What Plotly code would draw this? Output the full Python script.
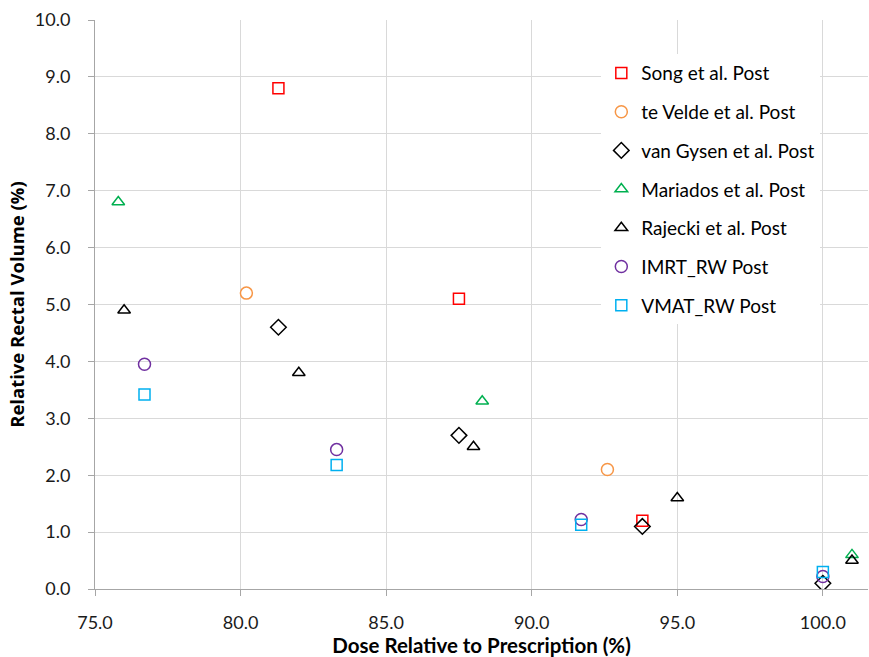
import plotly.graph_objects as go

# Dose (% of prescription) and relative rectal volume (%) for each study
song_x = [81.3, 87.5, 93.8]
song_y = [8.8, 5.1, 1.2]

tevelde_x = [80.2, 92.6]
tevelde_y = [5.2, 2.1]

vangysen_x = [81.3, 87.5, 93.8, 100.0]
vangysen_y = [4.6, 2.7, 1.1, 0.1]

mariados_x = [75.8, 88.3, 101.0]
mariados_y = [6.8, 3.3, 0.6]

rajecki_x = [76.0, 82.0, 88.0, 95.0, 101.0]
rajecki_y = [4.9, 3.8, 2.5, 1.6, 0.5]

imrt_x = [76.7, 83.3, 91.7, 100.0]
imrt_y = [3.95, 2.45, 1.22, 0.22]

vmat_x = [76.7, 83.3, 91.7, 100.0]
vmat_y = [3.42, 2.18, 1.13, 0.3]

x_ticks = [75.0, 80.0, 85.0, 90.0, 95.0, 100.0]
y_ticks = [0.0, 1.0, 2.0, 3.0, 4.0, 5.0, 6.0, 7.0, 8.0, 9.0, 10.0]

series = [
    ("Song et al. Post", song_x, song_y, "square-open", "#FF0000", 11),
    ("te Velde et al. Post", tevelde_x, tevelde_y, "circle-open", "#F79646", 12),
    ("van Gysen et al. Post", vangysen_x, vangysen_y, "diamond-open", "#000000", 12),
    ("Mariados et al. Post", mariados_x, mariados_y, "triangle-up-open", "#00B050", 11),
    ("Rajecki et al. Post", rajecki_x, rajecki_y, "triangle-up-open", "#000000", 11),
    ("IMRT_RW Post", imrt_x, imrt_y, "circle-open", "#7030A0", 12),
    ("VMAT_RW Post", vmat_x, vmat_y, "square-open", "#00B0F0", 11),
]

FONT = "Lato"
TICK_COLOR = "#1A1A1A"

fig = go.Figure()
for i, (name, xs, ys, sym, col, size) in enumerate(series):
    fig.add_trace(go.Scatter(
        x=xs, y=ys, mode="markers", name=name, legendgroup=f"g{i}",
        marker=dict(symbol=sym, size=size, color=col, line=dict(width=1.5, color=col)),
    ))

fig.update_layout(
    width=869, height=657,
    margin=dict(l=95, r=1, t=20, b=68),
    paper_bgcolor="white", plot_bgcolor="white",
    font=dict(family=FONT, size=18, color=TICK_COLOR),
    legend=dict(
        x=0.655, y=0.94, xanchor="left", yanchor="top",
        bgcolor="white", borderwidth=0,
        font=dict(family=FONT, size=19, color="#000000"),
        tracegroupgap=11, itemwidth=30,
    ),
    xaxis=dict(
        range=[75, 101.55], tickvals=x_ticks,
        ticktext=[f"{v:.1f}" for v in x_ticks],
        tickfont=dict(family=FONT, size=18, color=TICK_COLOR),
        showgrid=True, gridcolor="#D9D9D9", gridwidth=1,
        showline=True, linecolor="#A6A6A6", linewidth=1,
        ticks="outside", ticklen=6, tickcolor="#A6A6A6",
        ticklabelstandoff=11,
        zeroline=False,
        title=dict(text="<b>Dose Relative to Prescription (%)</b>",
                   font=dict(family=FONT, size=20.5, color="#000000"), standoff=7),
    ),
    yaxis=dict(
        range=[0, 10], tickvals=y_ticks,
        ticktext=[f"{v:.1f}" for v in y_ticks],
        tickfont=dict(family=FONT, size=18, color=TICK_COLOR),
        showgrid=True, gridcolor="#D9D9D9", gridwidth=1,
        showline=True, linecolor="#A6A6A6", linewidth=1,
        ticks="outside", ticklen=6, tickcolor="#A6A6A6",
        ticklabelstandoff=14,
        zeroline=False,
        title=dict(text="<b>Relative Rectal Volume (%)</b>",
                   font=dict(family="Open Sans", size=18.5, color="#000000"), standoff=5),
    ),
)

fig.write_html("out.html")
